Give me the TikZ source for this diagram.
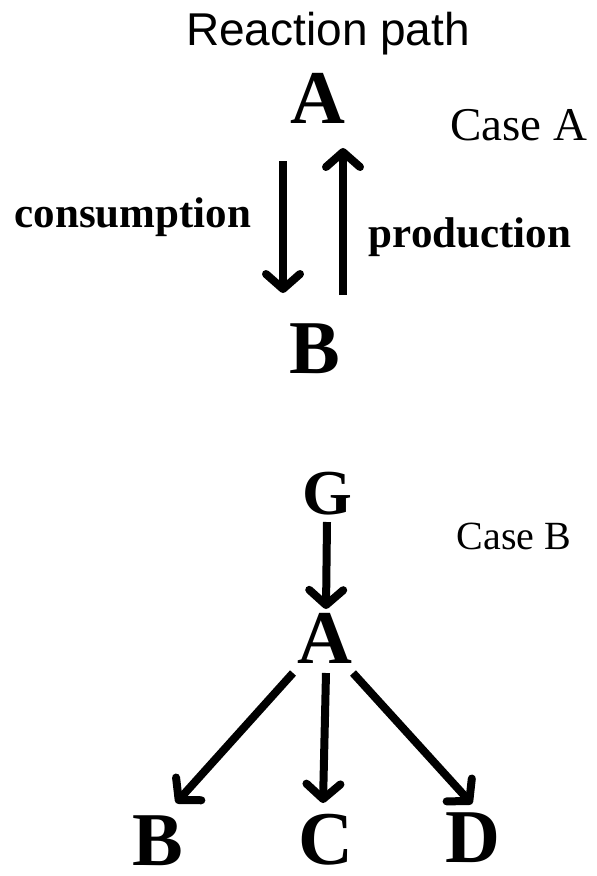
\documentclass[tikz,border=0pt]{standalone}
\usepackage{fontspec}
\setmainfont{Liberation Serif}
\setsansfont{Liberation Sans}
\usetikzlibrary{arrows.meta}
\begin{document}
\begin{tikzpicture}[x=1pt,y=-1pt,
  letter/.style={font=\fontsize{76}{76}\selectfont\bfseries, inner sep=0pt, anchor=base},
  casetxt/.style={font=\fontsize{47}{47}\selectfont, inner sep=0pt, anchor=base},
  lbl/.style={font=\fontsize{43}{43}\selectfont\bfseries, inner sep=0pt, anchor=base},
  rxn/.style={line width=8pt, -{Straight Barb[length=15pt,width=34pt,round]}}]
\useasboundingbox (0,0) rectangle (597,876);
\node[font=\fontsize{46}{46}\selectfont\sffamily, inner sep=0pt, anchor=base] (title) at (328,45) {Reaction path};
\node[letter] (A1) at (318,123) {A};
\node[casetxt] (caseA) at (519,140) {Case A};
\node[lbl] (cons) at (133,227) {consumption};
\node[lbl] (prod) at (470,247) {production};
\node[letter] (B1) at (315,373) {B};
\coordinate (c1s) at (283,161);
\coordinate (c1e) at (283,293);
\coordinate (p1s) at (343,295);
\coordinate (p1e) at (343,148);
\draw[rxn] (c1s) -- (c1e);
\draw[rxn] (p1s) -- (p1e);
\node[letter, font=\fontsize{64}{64}\selectfont\bfseries] (G) at (327,514) {G};
\node[casetxt, font=\fontsize{40}{40}\selectfont] (caseB) at (514,549) {Case B};
\node[letter] (A2) at (325,663) {A};
\node[letter] (B2) at (158,865) {B};
\node[letter] (C) at (326,864) {C};
\node[letter] (D) at (473,862) {D};
\coordinate (gs) at (327,522);
\coordinate (ge) at (326,609);
\coordinate (bs) at (293,673);
\coordinate (be) at (176,803);
\coordinate (cs) at (326,673);
\coordinate (ce) at (323,803);
\coordinate (ds) at (353,673);
\coordinate (de) at (472,804);
\draw[rxn] (gs) -- (ge);
\draw[rxn] (bs) -- (be);
\draw[rxn] (cs) -- (ce);
\draw[rxn] (ds) -- (de);
\end{tikzpicture}
\end{document}
